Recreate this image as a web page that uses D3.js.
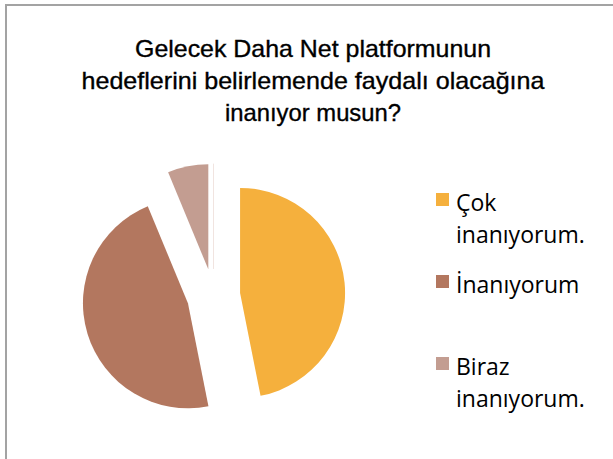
<!DOCTYPE html>
<html>
<head>
<meta charset="utf-8">
<script src="https://cdn.jsdelivr.net/npm/d3@7"></script>
<style>
  body { margin: 0; background: white; }
</style>
</head>
<body>
<div id="container"></div>
<script>
let w = 613;
let h = 459;

// data
let categories = ["Çok inanıyorum.", "İnanıyorum", "Biraz inanıyorum.", ""];
let values = [15, 15, 2, 0];
let colors = ["#F5B03D", "#B3775F", "#C39D91", "#C39D91"];
let titleLines = ["Gelecek Daha Net platformunun", "hedeflerini belirlemende faydalı olacağına", "inanıyor musun?"];
let legendLines = [["Çok", "inanıyorum."], ["İnanıyorum"], ["Biraz", "inanıyorum."]];

let viz = d3.select("#container")
  .append("svg")
    .attr("width", w)
    .attr("height", h)
    .style("background-color", "white");

// chart border (runs off right and bottom)
viz.append("rect")
  .attr("x", 6)
  .attr("y", 5)
  .attr("width", w + 20)
  .attr("height", h + 20)
  .attr("fill", "none")
  .attr("stroke", "#a3a3a3")
  .attr("stroke-width", 2);

// title, squeezed a bit like the narrow office font
let titleWidths = [356, 463, 176];
let title = viz.append("text")
  .attr("text-anchor", "middle")
  .style("font-family", "'Liberation Sans', Arial, sans-serif")
  .style("font-size", "24px")
  .attr("fill", "#000")
  .attr("stroke", "#000")
  .attr("stroke-width", 0.35);

title.selectAll("tspan").data(titleLines).enter()
  .append("tspan")
    .attr("x", 313)
    .attr("y", function(d, i){ return 57 + i * 32; })
    .attr("textLength", function(d, i){ return titleWidths[i]; })
    .attr("lengthAdjust", "spacingAndGlyphs")
    .text(function(d){ return d; });

// pie
let cx = 213.5, cy = 295.5, r = 105, explode = 26.7;

let pie = d3.pie().sort(null).value(function(d){ return d; });
let arc = d3.arc().innerRadius(0).outerRadius(r);
let slices = pie(values);

function getOffset(d){
  let a = (d.startAngle + d.endAngle) / 2;
  return "translate(" + (cx + explode * Math.sin(a)) + "," + (cy - explode * Math.cos(a)) + ")";
}

viz.selectAll(".slice").data(slices).enter()
  .append("path")
    .attr("class", "slice")
    .attr("d", arc)
    .attr("transform", getOffset)
    .attr("fill", function(d, i){ return colors[i]; })
    .attr("stroke", function(d){ return d.value == 0 ? "#f1e4e0" : "none"; })
    .attr("stroke-width", 1);

// legend
let legendY = [193, 275, 357];
let legend = viz.selectAll(".legend").data(legendLines).enter()
  .append("g")
    .attr("class", "legend")
    .attr("transform", function(d, i){ return "translate(436," + legendY[i] + ")"; });

legend.append("rect")
  .attr("width", 13)
  .attr("height", 13)
  .attr("fill", function(d, i){ return colors[i]; });

legend.each(function(lines){
  let t = d3.select(this).append("text")
    .style("font-family", "'Open Sans', sans-serif")
    .style("font-size", "23px")
    .attr("fill", "#000");
  t.selectAll("tspan").data(lines).enter()
    .append("tspan")
      .attr("x", 20)
      .attr("y", function(d, i){ return 18 + i * 32; })
      .text(function(d){ return d; });
});
</script>
</body>
</html>
